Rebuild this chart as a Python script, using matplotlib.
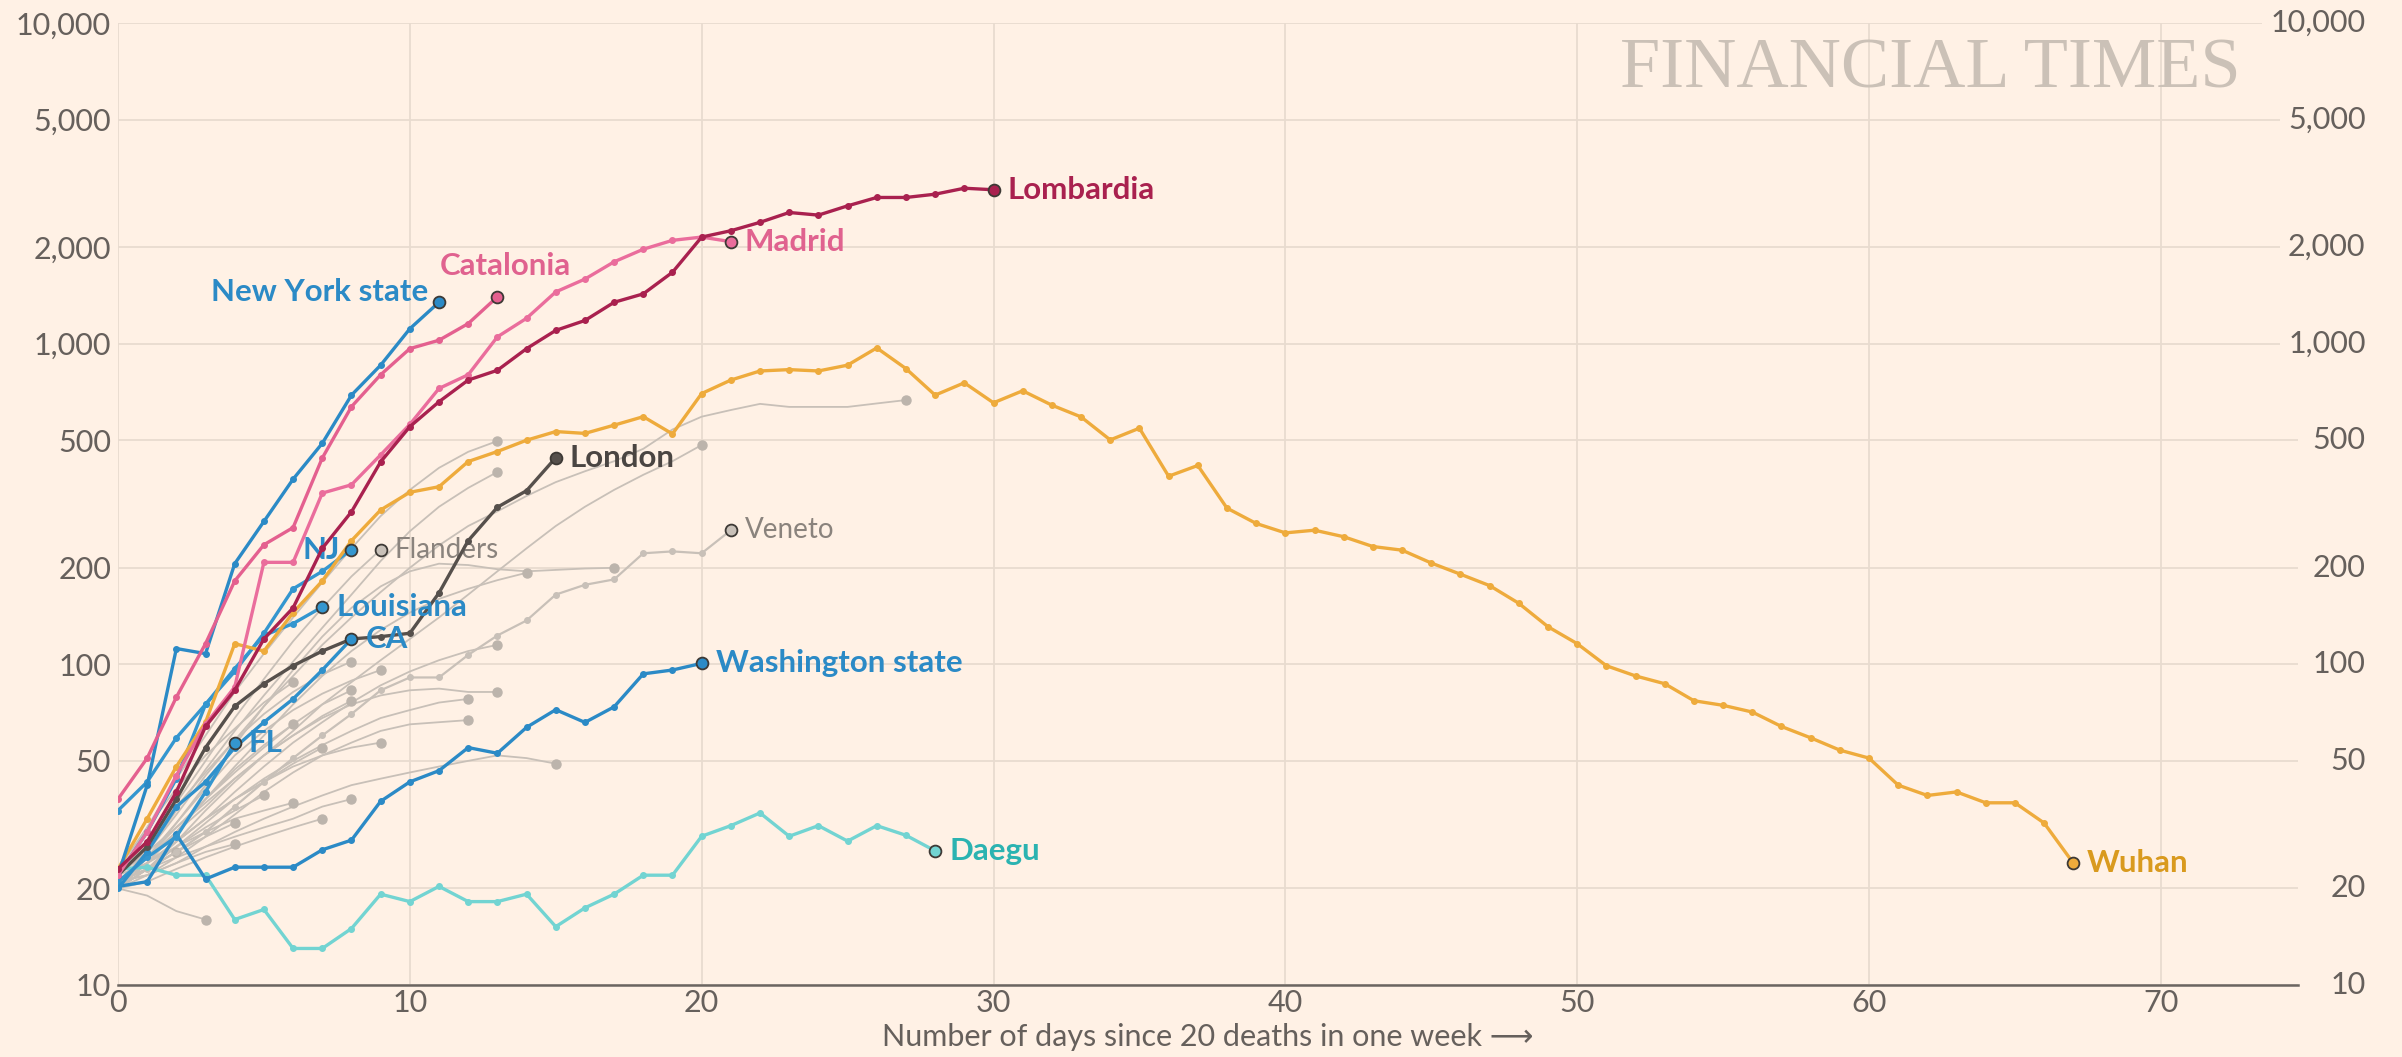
import matplotlib.pyplot as plt
from matplotlib.ticker import FuncFormatter
import matplotlib.transforms as mtransforms

plt.rcParams['font.family'] = ['Lato', 'DejaVu Sans']

bg = "#fff1e5"
grid_col = "#e8dbcf"
tick_col = "#66605c"

# highlighted places: values by day since 20 deaths in one week
wuhan = [23, 33, 48, 66, 116, 110, 145, 182, 243, 303, 344, 358, 429, 461, 500, 532, 525, 557, 592, 523,
         699, 770, 822, 830, 822, 857, 970, 836, 691, 755, 654, 713, 643, 591, 501, 545, 386, 417, 307, 275,
         257, 262, 250, 233, 227, 207, 191, 176, 155, 131, 116, 99, 92, 87, 77, 74.5, 71, 64, 59, 54,
         51, 42, 39, 40, 37, 37, 32, 24]
lombardia = [23, 28, 40, 64, 83, 120, 150, 230, 299, 428, 551, 659, 770, 826, 965, 1100, 1181, 1346, 1430, 1670,
             2150, 2250, 2390, 2565, 2517, 2690, 2857, 2857, 2925, 3053, 3020]
madrid = [22, 30, 45, 65, 85, 208, 208, 342, 363, 450, 560, 725, 800, 1050, 1200, 1450, 1590, 1800, 1970, 2100,
          2150, 2080]
catalonia = [38, 51, 79, 116, 182, 236, 267, 440, 636, 800, 965, 1025, 1155, 1400]
new_york = [22, 42, 112, 108, 206, 279, 378, 489, 691, 857, 1113, 1347]
london = [22, 27, 38, 55, 74, 87, 99, 110, 120, 122, 125, 167, 243, 309, 348, 441]
nj = [22, 30, 44, 75, 95, 125, 172, 195, 228]
louisiana = [35, 43, 59, 75, 97, 123, 134, 151]
ca = [20, 26, 36, 43, 55, 66, 78, 96, 120]
fl = [21, 25, 29, 40, 57]
washington = [20.3, 21, 29.5, 21.4, 23.3, 23.3, 23.3, 26.4, 28.3, 37.4, 43, 46.6, 55, 52.8, 63.6, 72.2, 65.9,
              73.7, 93.4, 96, 100.7]
daegu = [23, 23.3, 22, 22, 16, 17.2, 13, 13, 15, 19.2, 18.2, 20.3, 18.2, 18.2, 19.2, 15.2, 17.4, 19.2, 22, 22,
         29.1, 31.4, 34.4, 29.1, 31.4, 28.1, 31.4, 29.3, 26.2]
veneto = [21, 23, 26, 30, 36, 43, 51, 60, 70, 83, 91, 91, 107, 123, 137, 165, 177, 184, 222, 225, 222, 262]
flanders = [20, 27, 37, 50, 68, 90, 118, 150, 188, 228]

# other places, shown in grey without names
others = [
    [21, 26, 34, 45, 58, 74, 92, 115, 140, 168, 200, 235, 270, 300, 335, 370, 400, 430, 470, 540, 592, 621,
     649, 635, 635, 635, 651, 667],
    [20, 23, 28, 35, 43, 52, 62, 75, 88, 103, 120, 140, 165, 195, 230, 270, 310, 350, 390, 430, 483],
    [22, 31, 44, 60, 82, 108, 140, 180, 230, 290, 350, 410, 460, 497],
    [20, 26, 35, 47, 62, 80, 102, 130, 165, 210, 260, 310, 355, 398],
    [21, 25, 32, 42, 56, 74, 96, 122, 150, 175, 195, 206, 204, 198, 195, 197, 199, 200],
    [20, 24, 30, 38, 48, 60, 75, 92, 110, 128, 145, 160, 172, 183, 193],
    [21, 24, 28, 33, 40, 48, 57, 66, 76, 86, 95, 103, 110, 115],
    [20, 23, 27, 32, 38, 44, 50, 56, 62, 68, 72, 76, 78],
    [22, 26, 31, 37, 44, 52, 60, 68, 75, 80, 83, 84, 82, 82],
    [20, 22, 25, 29, 34, 40, 46, 52, 57, 62, 65, 66, 67],
    [21, 22, 24, 27, 30, 33, 36, 39, 42, 44, 46, 48, 50, 52, 51, 49],
    [20, 25, 32, 41, 52, 62, 72, 81, 89, 96],
    [21, 24, 28, 33, 38, 43, 48, 52, 55, 57],
    [22, 28, 36, 46, 58, 70, 82, 93, 102],
    [20, 24, 30, 38, 47, 56, 65, 75, 83],
    [21, 25, 30, 36, 44, 52, 60, 69, 77],
    [23, 31, 41, 52, 63, 76, 88],
    [20, 25, 31, 38, 46, 55, 65],
    [21, 24, 28, 33, 38, 43, 49, 55],
    [20, 23, 27, 31, 35, 39],
    [22, 24, 27, 30, 33, 35, 37],
    [20, 21, 23, 25, 27, 29, 31, 33],
    [21, 23, 25, 27, 29, 31, 33, 36, 38],
    [20, 23, 26, 29, 32],
    [21, 22, 24, 26, 27.5],
    [20, 19, 17, 16],
    [21, 23, 26],
]

y_ticks = [10, 20, 50, 100, 200, 500, 1000, 2000, 5000, 10000]
x_ticks = [0, 10, 20, 30, 40, 50, 60, 70]

fig = plt.figure(figsize=(24.02, 10.57), dpi=100, facecolor=bg)
ax = fig.add_axes([118 / 2402, 72 / 1057, 2180 / 2402, 962 / 1057])
ax.set_facecolor(bg)
ax.set_yscale("log")
ax.set_ylim(10, 10000)
ax.set_xlim(0, 74.7)

ax.set_yticks(y_ticks)
ax.yaxis.set_minor_locator(plt.NullLocator())
ax.yaxis.set_major_formatter(FuncFormatter(lambda v, p: "{:,}".format(int(v))))
ax.set_xticks(x_ticks)
ax.tick_params(axis="both", length=0, labelsize=22, colors=tick_col)
ax.tick_params(axis="y", pad=5)
ax.tick_params(axis="x", pad=3)
ax.grid(True, color=grid_col, lw=1.3, zorder=0)
ax.set_axisbelow(True)
for s in ["top", "right", "left"]:
    ax.spines[s].set_visible(False)
ax.spines["bottom"].set_color("#6b6560")
ax.spines["bottom"].set_linewidth(1.8)

# right-hand labels, with a background box so gridlines stop short of them
trans = mtransforms.blended_transform_factory(ax.transAxes, ax.transData)
for v in y_ticks:
    ax.text(1.031, v, "{:,}".format(v), transform=trans, ha="right", va="center", fontsize=22,
            color=tick_col, clip_on=False, zorder=10,
            bbox=dict(facecolor=bg, edgecolor="none", pad=6))

grey = "#c8c0b8"
for vals in others:
    days = list(range(len(vals)))
    ax.plot(days, vals, color=grey, lw=1.3, zorder=2)
    ax.plot(days[-1], vals[-1], "o", color="#bcb4ac", ms=6.5, zorder=2)


def draw(vals, color, label, lab_color, offset=(10, 0), ha="left", bold=True, end_dot=True, lw=2.4, ms=4, z=4):
    days = list(range(len(vals)))
    ax.plot(days, vals, color=color, lw=lw, marker="o", ms=ms, zorder=z)
    if end_dot:
        ax.plot(days[-1], vals[-1], "o", color=color, ms=8.5, mec="#3d3935", mew=1.3, zorder=z + 0.5)
    ax.annotate(label, (days[-1], vals[-1]), xytext=offset, textcoords="offset points", ha=ha, va="center",
                fontsize=22.5 if bold else 20, fontweight="bold" if bold else "normal", color=lab_color,
                zorder=z + 1)


draw(veneto, grey, "Veneto", "#8a837d", bold=False, lw=1.6, ms=4, z=3)
draw(flanders, grey, "Flanders", "#8a837d", bold=False, lw=1.3, ms=0, z=3)
draw(daegu, "#72d4d2", "Daegu", "#2bb3b1")
draw(washington, "#2b8ac6", "Washington state", "#2b8ac6")
draw(fl, "#3496cf", "FL", "#2b8ac6")
draw(ca, "#2f90cb", "CA", "#2b8ac6")
draw(louisiana, "#3496cf", "Louisiana", "#2b8ac6")
draw(nj, "#3496cf", "NJ", "#2b8ac6", offset=(-8, 0), ha="right")
draw(london, "#56504c", "London", "#4a4542")
draw(wuhan, "#eeab3c", "Wuhan", "#d99a1e")
draw(new_york, "#2b8ac6", "New York state", "#2b8ac6", offset=(-8, 7), ha="right")
draw(catalonia, "#e4608f", "Catalonia", "#e0628f", offset=(6, 22), ha="center")
draw(madrid, "#ea6d9c", "Madrid", "#e0628f")
draw(lombardia, "#a9214f", "Lombardia", "#a9214f", z=5)

ax.set_xlabel("Number of days since 20 deaths in one week \u27f6", fontsize=22, color=tick_col, labelpad=4)

fig.text(2241 / 2402, 1 - 70 / 1057, "FINANCIAL TIMES", family="Liberation Serif", fontsize=52,
         color="#cbc1b7", ha="right", va="center")

fig.savefig("out.png", dpi=100, facecolor=bg)
